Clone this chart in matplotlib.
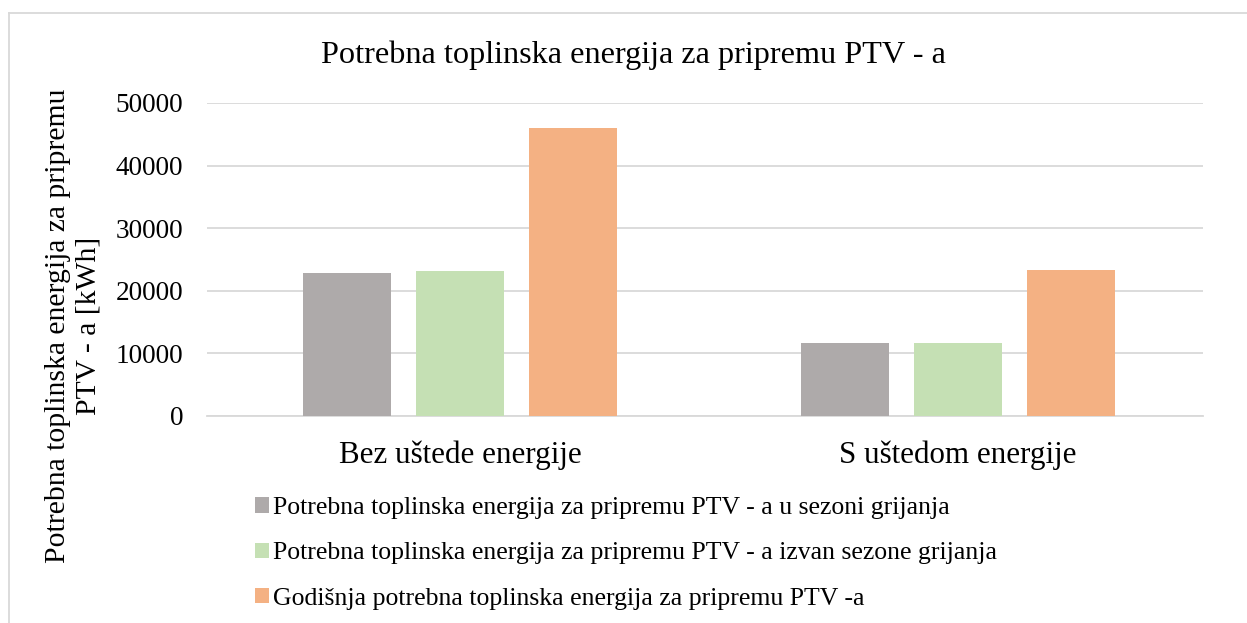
import matplotlib
matplotlib.use("Agg")
import matplotlib.pyplot as plt
import numpy as np
from matplotlib.lines import Line2D

plt.rcParams['font.family'] = ['Liberation Serif', 'DejaVu Serif']

categories = ["Bez uštede energije", "S uštedom energije"]
series_names = [
    "Potrebna toplinska energija za pripremu PTV - a u sezoni grijanja",
    "Potrebna toplinska energija za pripremu PTV - a izvan sezone grijanja",
    "Godišnja potrebna toplinska energija za pripremu PTV -a",
]
u_sezoni = [22770, 11580]
izvan_sezone = [23140, 11620]
godisnja = [45960, 23300]
colors = ["#AEAAAA", "#C5E0B4", "#F4B183"]
yticks = [0, 10000, 20000, 30000, 40000, 50000]

fig = plt.figure(figsize=(12.47, 6.23), dpi=100)
ax = fig.add_axes([207/1247, 1-415.7/623, (1203-207)/1247, (415.7-103)/623])

x = np.arange(len(categories))
w = 0.177
off = 0.227
for i, (vals, c, name) in enumerate(zip([u_sezoni, izvan_sezone, godisnja], colors, series_names)):
    ax.bar(x + (i-1)*off, vals, width=w, color=c, label=name, zorder=3)

ax.set_xlim(-0.508, 1.492)
ax.set_ylim(0, 50000)
ax.set_yticks(yticks)
ax.set_yticklabels([str(v) for v in yticks], fontsize=19.6)
ax.set_xticks(x)
ax.set_xticklabels(categories, fontsize=22.3)
ax.tick_params(axis='both', length=0)
ax.tick_params(axis='y', pad=17)
ax.tick_params(axis='x', pad=18)
ax.grid(axis='y', color='#D9D9D9', linewidth=1.3, zorder=0)
for s in ['top', 'right', 'left']:
    ax.spines[s].set_visible(False)
ax.spines['bottom'].set_color('#D9D9D9')
ax.spines['bottom'].set_linewidth(1.3)

fig.text(633.5/1247, 1-55/623, "Potrebna toplinska energija za pripremu PTV - a",
         ha='center', va='center', fontsize=23.2)
fig.text(73/1247, 1-326/623, "Potrebna toplinska energija za pripremu\nPTV - a [kWh]",
         ha='center', va='center', rotation=90, fontsize=21.3, linespacing=1.2)

leg = fig.legend(loc='upper left', bbox_to_anchor=(245/1247, 1-487/623), frameon=False,
                 fontsize=18.5, handlelength=0.55, handleheight=0.55, handletextpad=0.15,
                 labelspacing=0.9, borderaxespad=0)

# outer border (top and left visible)
fig.add_artist(Line2D([9/1247, 1], [1-13/623, 1-13/623], color='#D9D9D9', linewidth=1.3, transform=fig.transFigure))
fig.add_artist(Line2D([9/1247, 9/1247], [0, 1-13/623], color='#D9D9D9', linewidth=1.3, transform=fig.transFigure))

fig.savefig("out.png", dpi=100)
